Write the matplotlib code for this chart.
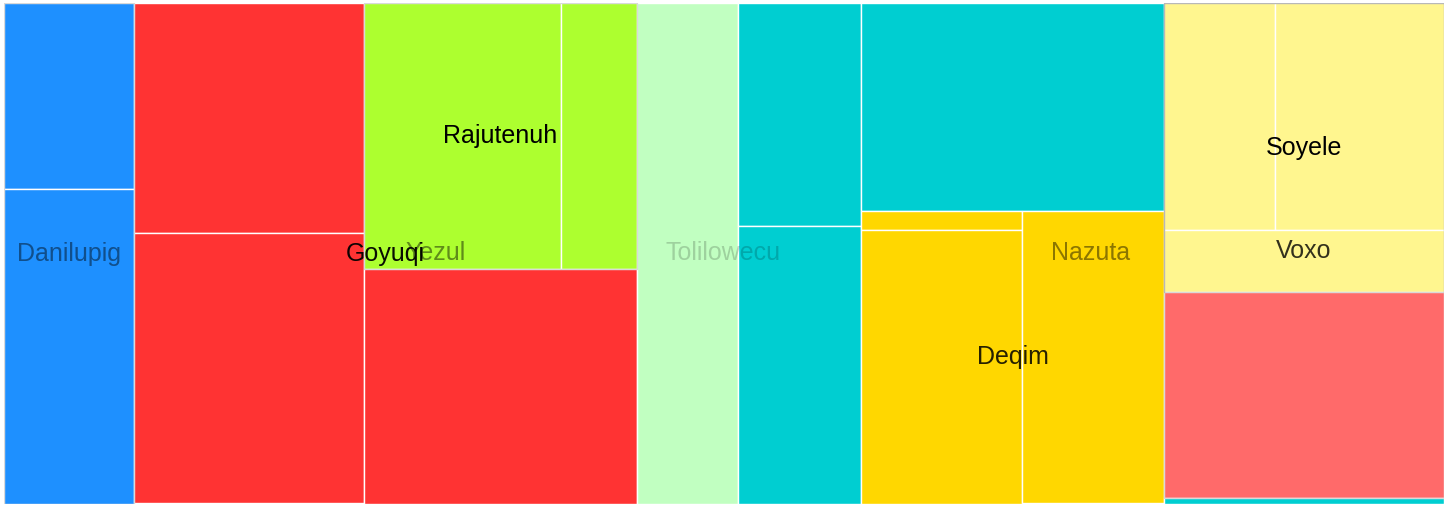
import matplotlib
matplotlib.use('Agg')
import matplotlib.pyplot as plt
from matplotlib.patches import Rectangle

plt.rcParams['font.family'] = ['Liberation Sans', 'DejaVu Sans']

# leaves of the treemap (value = area share)
leaf_ids = ['d1', 'd2', 'g1', 'g2', 'r1', 'r2', 'g3', 'p1', 'n1', 'n2', 'n3',
            'q1', 'q2', 'q3', 's1', 's2', 's3', 'x1', 'n4']
leaf_values = [242, 410, 529, 622, 524, 202, 639, 505, 274, 341, 629,
               31, 440, 415, 250, 382, 175, 576, 15]
leaf_colors = ['#1E90FF', '#1E90FF', '#FF3333', '#FF3333', '#ADFF2F', '#ADFF2F',
               '#FF3333', '#C1FFC1', '#00CED1', '#00CED1', '#00CED1',
               '#FFD700', '#FFD700', '#FFD700', '#FFF68F', '#FFF68F', '#FFF68F',
               '#FF6A6A', '#00CED1']

# groups: name, member leaves, label alpha
group_names = ['Tolilowecu', 'Danilupig', 'Yezul', 'Goyuqi', 'Rajutenuh',
               'Nazuta', 'Deqim', 'Voxo', 'Soyele']
group_members = [leaf_ids,
                 ['d1', 'd2'],
                 ['g1', 'g2', 'g3', 'r1', 'r2', 'p1'],
                 ['g1', 'g2', 'g3'],
                 ['r1', 'r2'],
                 ['n1', 'n2', 'n3', 'n4', 'q1', 'q2', 'q3', 's1', 's2', 's3', 'x1'],
                 ['q1', 'q2', 'q3'],
                 ['s1', 's2', 's3', 'x1'],
                 ['s1', 's2', 's3']]
group_alpha = [0.18, 0.45, 0.45, 0.95, 1.0, 0.45, 0.85, 0.8, 1.0]

# slicing structure: 'h' splits left->right, 'v' splits top->bottom
tree = ('h', [
    ('v', ['d1', 'd2']),
    ('h', [('v', ['g1', 'g2']),
           ('v', [('h', ['r1', 'r2']), 'g3']),
           'p1']),
    ('h', [('v', ['n1', 'n2']),
           ('v', ['n3', ('h', [('v', ['q1', 'q2']), 'q3'])]),
           ('v', [('h', ['s1', 's2']), 's3', 'x1', 'n4'])]),
])

val = dict(zip(leaf_ids, leaf_values))


def total(node):
    if isinstance(node, str):
        return val[node]
    return sum(total(k) for k in node[1])


def layout(node, x0, y0, x1, y1, out):
    if isinstance(node, str):
        out[node] = (x0, y0, x1, y1)
        return
    d, kids = node
    tot = total(node)
    pos = x0 if d == 'h' else y0
    for k in kids:
        f = total(k) / tot
        if d == 'h':
            w = (x1 - x0) * f
            layout(k, pos, y0, pos + w, y1, out)
        else:
            w = (y1 - y0) * f
            layout(k, x0, pos, x1, pos + w, out)
        pos += w


rects = {}
layout(tree, 0, 0, 1, 1, rects)

fig = plt.figure(figsize=(14.47, 5.07), dpi=100)
ax = fig.add_axes([3.5 / 1447, 3.5 / 507, 1440 / 1447, 500 / 507])
ax.set_xlim(0, 1)
ax.set_ylim(1, 0)
ax.axis('off')

for lid, c in zip(leaf_ids, leaf_colors):
    x0, y0, x1, y1 = rects[lid]
    ax.add_patch(Rectangle((x0, y0), x1 - x0, y1 - y0, facecolor=c,
                           edgecolor='white', lw=1))

# faint outlines of rectangular sub-groups
for name in ['Danilupig', 'Rajutenuh', 'Soyele', 'Voxo']:
    mem = group_members[group_names.index(name)]
    x0 = min(rects[m][0] for m in mem)
    y0 = min(rects[m][1] for m in mem)
    x1 = max(rects[m][2] for m in mem)
    y1 = max(rects[m][3] for m in mem)
    ax.add_patch(Rectangle((x0, y0), x1 - x0, y1 - y0, facecolor='none',
                           edgecolor='black', alpha=0.15, lw=1))

for name, mem, a in zip(group_names, group_members, group_alpha):
    x0 = min(rects[m][0] for m in mem)
    y0 = min(rects[m][1] for m in mem)
    x1 = max(rects[m][2] for m in mem)
    y1 = max(rects[m][3] for m in mem)
    ax.text((x0 + x1) / 2, (y0 + y1) / 2, name, ha='center', va='center',
            fontsize=18, color='black', alpha=a)

fig.savefig('out.png', dpi=100)
